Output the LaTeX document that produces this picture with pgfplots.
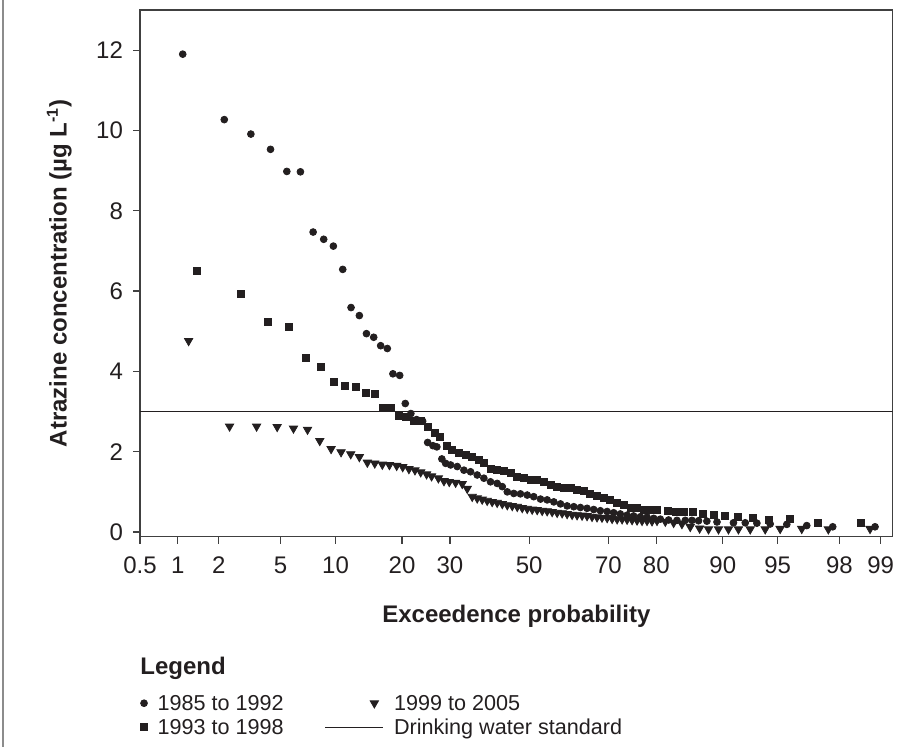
\documentclass[border=0pt]{standalone}
\usepackage{fontspec}
\setmainfont{Liberation Sans}
\usepackage{pgfplots}
\pgfplotsset{compat=1.18}
\usepackage{pgfplotstable}
\definecolor{ink}{RGB}{35,31,32}

% x = standard normal quantile of the exceedence probability
\pgfplotstableread{
z y
-2.293 11.90
-2.018 10.27
-1.842 9.91
-1.712 9.53
-1.604 8.98
-1.514 8.97
-1.430 7.47
-1.360 7.29
-1.296 7.12
-1.234 6.54
-1.179 5.59
-1.124 5.39
-1.077 4.94
-1.029 4.85
-0.983 4.64
-0.939 4.57
-0.902 3.94
-0.857 3.90
-0.820 3.20
-0.783 2.95
-0.745 2.80
-0.705 2.76
-0.672 2.23
-0.637 2.15
-0.611 2.12
-0.578 1.82
-0.553 1.71
-0.520 1.67
-0.476 1.63
-0.432 1.54
-0.388 1.50
-0.344 1.42
-0.300 1.34
-0.256 1.25
-0.212 1.21
-0.178 1.13
-0.145 1.00
-0.102 0.96
-0.058 0.95
-0.013 0.92
0.030 0.88
0.075 0.82
0.119 0.80
0.163 0.75
0.207 0.70
0.251 0.65
0.295 0.63
0.339 0.61
0.383 0.59
0.427 0.56
0.471 0.53
0.516 0.51
0.559 0.48
0.603 0.45
0.648 0.42
0.691 0.40
0.736 0.38
0.780 0.37
0.824 0.34
0.868 0.32
0.923 0.30
0.978 0.29
1.033 0.29
1.077 0.29
1.121 0.28
1.176 0.27
1.243 0.25
1.352 0.23
1.430 0.23
1.507 0.22
1.595 0.20
1.705 0.19
1.837 0.16
2.009 0.13
2.289 0.13
}\circdata

\pgfplotstableread{
z y
-2.197 6.51
-1.910 5.92
-1.728 5.23
-1.589 5.10
-1.477 4.34
-1.377 4.10
-1.293 3.73
-1.219 3.65
-1.148 3.62
-1.082 3.46
-1.022 3.44
-0.965 3.10
-0.912 3.10
-0.859 2.89
-0.813 2.87
-0.763 2.76
-0.716 2.76
-0.672 2.61
-0.626 2.46
-0.591 2.36
-0.547 2.14
-0.509 2.04
-0.465 1.96
-0.421 1.92
-0.377 1.87
-0.333 1.79
-0.300 1.71
-0.256 1.58
-0.212 1.54
-0.168 1.52
-0.124 1.48
-0.079 1.38
-0.036 1.34
0.009 1.31
0.053 1.29
0.096 1.25
0.141 1.17
0.185 1.13
0.229 1.10
0.273 1.09
0.317 1.06
0.361 1.03
0.405 0.96
0.449 0.90
0.493 0.84
0.537 0.80
0.582 0.73
0.625 0.67
0.670 0.61
0.714 0.59
0.757 0.56
0.802 0.56
0.846 0.55
0.916 0.52
0.969 0.51
1.022 0.50
1.081 0.49
1.147 0.44
1.220 0.42
1.297 0.41
1.379 0.38
1.478 0.35
1.588 0.31
1.727 0.32
1.914 0.23
2.194 0.22
}\sqdata

\pgfplotstableread{
z y
-2.254 4.76
-1.983 2.63
-1.804 2.63
-1.668 2.62
-1.560 2.58
-1.467 2.55
-1.386 2.27
-1.311 2.07
-1.245 1.99
-1.181 1.94
-1.124 1.87
-1.071 1.73
-1.022 1.71
-0.972 1.68
-0.925 1.67
-0.877 1.65
-0.837 1.62
-0.796 1.57
-0.756 1.54
-0.718 1.49
-0.679 1.44
-0.646 1.39
-0.601 1.34
-0.564 1.27
-0.529 1.25
-0.487 1.23
-0.443 1.20
-0.410 1.08
-0.377 0.88
-0.344 0.84
-0.311 0.81
-0.278 0.78
-0.245 0.75
-0.212 0.73
-0.178 0.70
-0.145 0.67
-0.112 0.65
-0.079 0.63
-0.046 0.60
-0.013 0.58
0.020 0.56
0.053 0.55
0.086 0.53
0.119 0.52
0.152 0.50
0.185 0.48
0.218 0.47
0.251 0.45
0.284 0.43
0.317 0.42
0.350 0.41
0.383 0.40
0.416 0.38
0.449 0.37
0.482 0.36
0.516 0.35
0.549 0.33
0.582 0.32
0.615 0.32
0.648 0.31
0.681 0.30
0.714 0.29
0.747 0.28
0.780 0.28
0.813 0.27
0.846 0.28
0.901 0.26
0.956 0.23
1.011 0.20
1.066 0.13
1.128 0.09
1.187 0.07
1.253 0.07
1.319 0.07
1.385 0.07
1.463 0.07
1.562 0.07
1.661 0.08
1.804 0.08
1.980 0.07
2.256 0.08
}\tridata

\begin{document}
\begin{tikzpicture}
\path[use as bounding box] (-70pt,-109.15pt) rectangle (386.5pt,268.35pt);
\draw[black!45, line width=1pt] (-68.5pt,268.35pt) -- (-68.5pt,-105.15pt);
\begin{axis}[
  name=ax,
  at={(0,0)}, anchor=south west,
  scale only axis, width=376.35pt, height=263.35pt,
  xmin=-2.5758, xmax=2.406, ymin=-0.117, ymax=13,
  axis line style={black!75, line width=0.6pt},
  tick style={black!75, line width=0.6pt},
  tick align=outside, major tick length=3.5pt,
  xtick pos=bottom, ytick pos=left,
  xtick={-2.5758,-2.3263,-2.0537,-1.6449,-1.2816,-0.8416,-0.5244,0,0.5244,0.8416,1.2816,1.6449,2.0537,2.3263},
  xticklabels={0.5,1,2,5,10,20,30,50,70,80,90,95,98,99},
  ytick={0,2,4,6,8,10,12},
  ticklabel style={font=\fontsize{12}{14}\selectfont, text=ink},
  xticklabel style={yshift=-3pt},
  yticklabel style={xshift=-1.5pt},
  /pgf/number format/assume math mode=true,
  xlabel={Exceedence probability},
  ylabel={Atrazine concentration (µg L\textsuperscript{-1})},
  label style={font=\bfseries\fontsize{12}{14}\selectfont, text=ink},
  xlabel style={at={(axis description cs:0.5,-0.1631)}, anchor=base},
  ylabel style={at={(axis description cs:-0.0975,0.5)}, anchor=base},
  legend columns=2, transpose legend,
  legend cell align=left,
  legend style={draw=none, fill=none, inner sep=0pt, outer sep=0pt,
    at={(axis description cs:0.0007,-0.300)}, anchor=north west,
    font=\fontsize{10.8}{13}\selectfont, text=ink,
    row sep=1.5pt,
    nodes={inner sep=0pt, text height=8pt, text depth=2.5pt},
    /tikz/every odd column/.append style={column sep=5pt},
    /tikz/every even column/.append style={column sep=20.5pt}},
]
\addplot[only marks, mark=*, mark size=1.7pt, color=ink, mark options={fill=ink, draw=ink},
  legend image code/.code={\draw[ink, mark=*, mark size=1.7pt, mark options={fill=ink, draw=ink}] plot coordinates {(0pt,1pt)};}]
  table[x=z, y=y] {\circdata};
\addlegendentry{1985 to 1992}
\addplot[only marks, mark=square*, mark size=1.75pt, color=ink, mark options={fill=ink, draw=ink},
  legend image code/.code={\draw[ink, mark=square*, mark size=1.75pt, mark options={fill=ink, draw=ink}] plot coordinates {(0pt,1pt)};}]
  table[x=z, y=y] {\sqdata};
\addlegendentry{1993 to 1998}
\addplot[only marks, mark=triangle*, mark size=2.4pt, color=ink, mark options={fill=ink, draw=ink, rotate=180},
  legend image code/.code={\draw[opacity=0] (0pt,0pt) -- (29pt,0pt); \draw[ink, mark=triangle*, mark size=2.4pt, mark options={fill=ink, draw=ink, rotate=180}] plot coordinates {(24.5pt,1pt)};}]
  table[x=z, y=y] {\tridata};
\addlegendentry{1999 to 2005}
\addplot[ink, line width=0.7pt, mark=none,
  legend image code/.code={\draw[ink, line width=0.7pt] (0pt,1pt) -- (29pt,1pt);}]
  coordinates {(-2.5758,3) (2.406,3)};
\addlegendentry{Drinking water standard}
\end{axis}
\node[anchor=base west, font=\bfseries\fontsize{12}{14}\selectfont, text=ink, inner sep=0pt] at ([yshift=-68.95pt]ax.south west) {Legend};
\end{tikzpicture}
\end{document}
